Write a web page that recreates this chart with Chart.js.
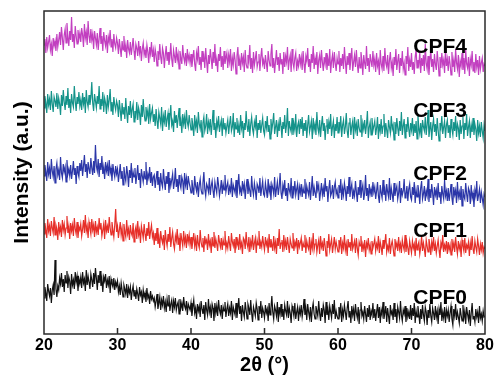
<!DOCTYPE html>
<html>
<head>
<meta charset="utf-8">
<script src="https://cdn.jsdelivr.net/npm/chart.js@4.4.1/dist/chart.umd.min.js"></script>
<style>
    html, body { margin: 0; padding: 0; background: #fff; }
    .chart-container { position: relative; width: 497px; height: 387px; }
</style>
</head>
<body>
<div class="chart-container"><canvas id="xrdChart"></canvas></div>
<script>
// 2theta grid, 0.125 deg steps from 20 to 80 (one line of each array = 5 deg)
const angleStart = 20;
const angleStep = 0.125;
const pointCount = 481;
const twoTheta = Array.from({ length: pointCount }, (_, i) => angleStart + i * angleStep);

const xTicks = [20, 30, 40, 50, 60, 70, 80];
const seriesNames = ["CPF0", "CPF1", "CPF2", "CPF3", "CPF4"];
const seriesColors = ["#111111", "#e62f29", "#2b36a8", "#14938a", "#c23fc0"];

// label anchor (2theta, intensity) for each curve name
const labelAngle = [73.9, 73.9, 73.9, 73.9, 73.9];
const labelLevel = [36, 103, 160, 223, 287];

// intensities (stacked, arbitrary units)
const cpf0 = [
    36, 47, 41, 33, 50, 43, 38, 46, 31, 44, 49, 39, 74, 45, 37, 48, 44, 56, 50, 61, 47, 55, 42, 59, 51, 63, 46, 57, 53, 40, 60, 49, 54, 45, 62, 52, 58, 43, 55, 50,
    57, 46, 62, 51, 55, 43, 64, 49, 58, 52, 45, 60, 54, 47, 61, 50, 66, 56, 44, 59, 51, 63, 48, 55, 42, 57, 53, 60, 46, 54, 49, 58, 41, 55, 50, 47, 56, 44, 52, 48,
    53, 42, 48, 39, 51, 44, 37, 49, 45, 40, 50, 36, 46, 41, 47, 34, 43, 48, 38, 44, 35, 45, 40, 33, 47, 39, 42, 31, 44, 37, 41, 32, 46, 36, 39, 30, 43, 35, 38, 33,
    36, 27, 33, 40, 25, 31, 37, 24, 34, 29, 38, 26, 32, 22, 35, 28, 39, 23, 30, 34, 21, 33, 27, 36, 24, 29, 32, 20, 35, 26, 31, 23, 37, 28, 25, 33, 19, 30, 27, 24,
    31, 18, 27, 34, 21, 26, 15, 30, 23, 28, 17, 33, 25, 20, 29, 14, 32, 24, 19, 35, 22, 27, 16, 30, 26, 13, 31, 21, 28, 18, 34, 24, 20, 29, 15, 27, 23, 32, 17, 25,
    30, 18, 26, 21, 33, 14, 27, 23, 19, 31, 16, 25, 36, 20, 28, 13, 29, 22, 17, 32, 24, 15, 30, 26, 19, 34, 21, 12, 27, 23, 18, 31, 25, 14, 28, 20, 33, 16, 26, 22,
    16, 29, 21, 25, 13, 31, 19, 26, 38, 22, 15, 28, 24, 18, 32, 12, 27, 20, 30, 17, 25, 14, 29, 23, 19, 33, 16, 26, 21, 11, 28, 24, 18, 31, 15, 22, 27, 13, 25, 20,
    29, 17, 24, 35, 19, 26, 14, 30, 22, 16, 27, 12, 25, 31, 20, 15, 28, 23, 18, 33, 21, 13, 26, 17, 29, 24, 11, 32, 19, 25, 14, 28, 22, 16, 30, 20, 34, 15, 23, 18,
    15, 27, 20, 31, 12, 24, 18, 29, 22, 14, 26, 33, 17, 23, 11, 28, 19, 25, 13, 30, 21, 16, 27, 10, 24, 32, 18, 22, 15, 28, 20, 12, 26, 17, 29, 14, 23, 19, 31, 16,
    25, 13, 22, 30, 16, 27, 11, 24, 19, 32, 15, 21, 28, 12, 26, 18, 10, 29, 20, 23, 14, 31, 17, 25, 11, 27, 22, 16, 33, 19, 13, 24, 20, 28, 12, 26, 17, 22, 15, 29,
    14, 26, 18, 31, 11, 23, 17, 28, 20, 10, 25, 15, 29, 19, 13, 27, 22, 9, 24, 16, 30, 18, 12, 26, 21, 14, 28, 17, 23, 10, 25, 19, 32, 13, 22, 16, 27, 11, 24, 18,
    24, 12, 21, 28, 15, 9, 25, 18, 30, 14, 22, 17, 11, 26, 19, 13, 29, 16, 23, 10, 27, 20, 14, 24, 8, 21, 31, 15, 18, 12, 25, 17, 22, 11, 28, 16, 20, 13, 23, 17,
    18
];
const cpf1 = [
    100, 111, 104, 96, 115, 103, 108, 98, 113, 106, 101, 117, 99, 109, 105, 94, 112, 102, 107, 97, 114, 104, 110, 99, 106, 118, 101, 108, 95, 111, 103, 109, 98, 116, 105, 100, 112, 96, 107, 104,
    110, 98, 105, 114, 101, 119, 103, 108, 96, 112, 106, 100, 115, 104, 109, 97, 113, 102, 107, 99, 116, 105, 111, 98, 104, 110, 95, 114, 103, 108, 101, 117, 106, 99, 112, 104, 97, 109, 125, 102,
    108, 96, 104, 112, 99, 106, 93, 110, 102, 97, 114, 100, 105, 94, 109, 101, 98, 111, 92, 103, 107, 95, 113, 99, 104, 91, 108, 102, 96, 110, 100, 93, 106, 98, 112, 95, 103, 109, 97, 101,
    89, 101, 93, 106, 90, 97, 86, 103, 95, 91, 99, 84, 104, 94, 88, 100, 92, 107, 87, 96, 102, 90, 85, 98, 93, 105, 89, 96, 83, 101, 94, 88, 103, 91, 97, 86, 100, 92, 99, 89,
    97, 85, 93, 101, 88, 95, 83, 99, 90, 86, 104, 92, 87, 96, 82, 98, 91, 94, 84, 100, 89, 93, 81, 97, 88, 102, 86, 95, 90, 83, 99, 92, 87, 96, 84, 94, 89, 103, 85, 91,
    86, 98, 90, 83, 101, 92, 88, 95, 81, 97, 89, 93, 84, 100, 87, 91, 80, 96, 94, 85, 102, 90, 86, 97, 82, 93, 88, 99, 84, 91, 96, 81, 94, 89, 103, 85, 92, 87, 98, 90,
    84, 97, 89, 93, 81, 100, 87, 95, 90, 83, 98, 86, 92, 80, 96, 88, 105, 85, 91, 94, 82, 99, 87, 93, 84, 97, 89, 81, 95, 90, 86, 101, 83, 92, 88, 96, 80, 94, 87, 91,
    96, 83, 91, 87, 99, 81, 93, 88, 85, 97, 79, 92, 86, 101, 84, 90, 95, 82, 89, 94, 80, 98, 87, 91, 83, 96, 88, 78, 93, 86, 100, 84, 90, 95, 81, 89, 97, 85, 92, 87,
    82, 94, 88, 97, 80, 91, 86, 99, 84, 90, 78, 95, 87, 92, 83, 100, 85, 89, 93, 81, 96, 86, 79, 92, 88, 98, 82, 90, 85, 94, 77, 91, 87, 96, 84, 89, 80, 93, 86, 90,
    95, 83, 90, 86, 98, 81, 92, 87, 79, 94, 85, 91, 100, 82, 88, 84, 96, 80, 89, 93, 86, 78, 95, 87, 91, 83, 97, 85, 90, 81, 94, 88, 84, 99, 82, 92, 86, 79, 93, 87,
    81, 93, 86, 90, 78, 96, 84, 89, 92, 80, 87, 98, 83, 91, 85, 77, 94, 88, 82, 95, 89, 79, 92, 86, 97, 83, 90, 81, 88, 94, 84, 76, 91, 87, 99, 82, 89, 85, 93, 80,
    92, 84, 89, 79, 95, 86, 91, 82, 97, 87, 80, 93, 85, 90, 77, 94, 88, 83, 96, 81, 89, 86, 92, 78, 91, 84, 98, 85, 80, 93, 87, 82, 95, 88, 79, 90, 84, 92, 81, 87,
    85
];
const cpf2 = [
    158, 169, 162, 153, 172, 160, 166, 155, 175, 163, 157, 168, 151, 165, 171, 159, 164, 154, 177, 161, 156, 170, 162, 167, 152, 174, 160, 165, 158, 169, 155, 163, 173, 159, 166, 150, 168, 161, 157, 171,
    163, 174, 158, 168, 179, 162, 170, 156, 172, 165, 160, 176, 166, 159, 173, 161, 189, 168, 163, 175, 157, 171, 164, 178, 160, 167, 155, 172, 163, 169, 158, 174, 161, 166, 153, 170, 162, 157, 168, 160,
    165, 152, 161, 170, 155, 163, 149, 167, 158, 153, 168, 160, 147, 164, 156, 171, 151, 162, 157, 166, 150, 159, 169, 154, 161, 146, 165, 158, 152, 163, 155, 172, 149, 160, 156, 167, 151, 162, 148, 157,
    159, 146, 155, 163, 149, 157, 143, 161, 151, 147, 165, 153, 144, 158, 150, 162, 141, 156, 148, 154, 160, 145, 152, 166, 147, 155, 142, 159, 150, 146, 157, 153, 140, 161, 149, 156, 144, 158, 151, 147,
    141, 154, 146, 139, 158, 148, 143, 152, 137, 149, 155, 144, 140, 151, 162, 145, 138, 150, 147, 142, 156, 139, 148, 153, 143, 136, 152, 146, 141, 157, 149, 138, 145, 154, 140, 150, 144, 159, 142, 148,
    152, 139, 147, 143, 156, 137, 149, 145, 141, 154, 136, 148, 160, 142, 146, 138, 153, 144, 150, 135, 147, 155, 140, 149, 143, 137, 158, 145, 139, 151, 144, 134, 150, 147, 141, 156, 138, 146, 153, 140,
    138, 151, 144, 136, 155, 142, 148, 134, 150, 146, 140, 157, 137, 145, 152, 139, 147, 161, 141, 135, 149, 143, 154, 138, 146, 133, 151, 144, 140, 156, 136, 148, 142, 153, 139, 145, 150, 134, 147, 141,
    150, 137, 146, 141, 155, 135, 148, 143, 139, 152, 134, 145, 158, 138, 147, 141, 136, 153, 144, 149, 133, 142, 151, 139, 146, 137, 156, 143, 148, 132, 145, 154, 138, 141, 149, 135, 147, 152, 140, 144,
    136, 149, 141, 155, 134, 146, 139, 151, 144, 133, 148, 140, 157, 137, 145, 150, 135, 143, 138, 153, 142, 132, 147, 139, 154, 136, 144, 149, 134, 141, 159, 138, 146, 133, 150, 140, 145, 137, 152, 142,
    147, 135, 143, 152, 138, 131, 149, 141, 136, 154, 139, 145, 133, 150, 142, 137, 156, 134, 146, 140, 132, 151, 138, 144, 148, 135, 141, 153, 131, 146, 139, 143, 155, 136, 140, 148, 133, 145, 150, 137,
    134, 147, 139, 152, 131, 144, 137, 149, 142, 130, 146, 153, 135, 140, 148, 133, 143, 138, 155, 132, 145, 136, 150, 141, 129, 147, 139, 144, 134, 151, 137, 142, 130, 148, 140, 135, 154, 138, 143, 133,
    146, 133, 141, 150, 136, 129, 147, 139, 144, 131, 152, 137, 142, 134, 148, 128, 145, 138, 135, 151, 140, 132, 146, 143, 130, 149, 136, 141, 127, 144, 138, 153, 133, 139, 145, 131, 142, 136, 129, 140,
    137
];
const cpf3 = [
    226, 238, 231, 221, 240, 229, 235, 224, 243, 230, 222, 237, 233, 227, 241, 225, 236, 230, 219, 239, 228, 244, 232, 224, 238, 229, 246, 226, 235, 221, 240, 231, 227, 248, 233, 223, 237, 230, 242, 228,
    234, 224, 241, 230, 237, 221, 244, 232, 227, 239, 229, 236, 252, 231, 223, 240, 233, 226, 238, 230, 248, 225, 235, 228, 242, 222, 236, 231, 220, 239, 227, 234, 245, 223, 232, 219, 237, 229, 224, 233,
    229, 217, 234, 224, 213, 231, 220, 227, 215, 236, 222, 211, 228, 219, 233, 216, 225, 230, 212, 223, 218, 232, 214, 226, 221, 209, 229, 217, 235, 220, 213, 227, 218, 224, 210, 230, 215, 221, 226, 212,
    220, 208, 225, 213, 205, 222, 216, 210, 227, 203, 218, 212, 224, 207, 215, 221, 204, 217, 229, 209, 213, 202, 223, 211, 219, 206, 216, 226, 208, 214, 201, 220, 210, 217, 205, 224, 212, 207, 219, 211,
    204, 216, 209, 198, 219, 207, 213, 201, 222, 210, 205, 214, 197, 211, 217, 203, 208, 220, 200, 212, 206, 215, 199, 210, 224, 204, 211, 196, 213, 207, 218, 202, 209, 214, 198, 216, 205, 211, 201, 208,
    214, 200, 210, 218, 203, 207, 221, 197, 212, 205, 216, 201, 209, 199, 219, 206, 213, 196, 211, 204, 223, 208, 202, 215, 198, 210, 217, 205, 200, 212, 207, 219, 196, 211, 204, 214, 201, 209, 216, 203,
    199, 213, 206, 218, 202, 209, 195, 215, 204, 211, 221, 200, 207, 214, 197, 210, 203, 217, 208, 196, 212, 205, 219, 201, 209, 226, 198, 213, 206, 202, 216, 199, 210, 204, 220, 197, 208, 212, 200, 215,
    205, 217, 198, 211, 203, 214, 196, 209, 219, 202, 207, 213, 195, 216, 204, 210, 199, 222, 206, 201, 214, 197, 209, 218, 203, 211, 194, 208, 215, 200, 212, 205, 220, 198, 207, 213, 196, 210, 203, 217,
    201, 212, 206, 218, 197, 209, 214, 200, 207, 221, 203, 196, 211, 216, 199, 208, 213, 195, 217, 204, 210, 198, 215, 206, 202, 219, 197, 211, 205, 214, 200, 209, 223, 196, 207, 212, 199, 216, 203, 208,
    213, 199, 206, 217, 195, 210, 203, 215, 200, 208, 220, 197, 211, 204, 196, 214, 207, 201, 218, 205, 209, 194, 212, 200, 216, 206, 198, 213, 203, 222, 199, 208, 215, 196, 210, 202, 217, 205, 197, 211,
    204, 216, 198, 210, 201, 213, 195, 219, 206, 200, 211, 196, 214, 207, 203, 217, 199, 209, 224, 197, 205, 212, 194, 208, 215, 202, 210, 198, 216, 204, 193, 211, 206, 218, 200, 207, 213, 196, 209, 214,
    201, 209, 196, 215, 205, 199, 212, 203, 218, 197, 210, 206, 194, 214, 200, 208, 217, 195, 211, 204, 220, 198, 207, 213, 196, 209, 202, 216, 199, 210, 205, 193, 214, 201, 208, 197, 212, 203, 196, 209,
    203
];
const cpf4 = [
    289, 295, 281, 297, 286, 292, 299, 284, 290, 278, 296, 288, 293, 283, 300, 287, 294, 302, 289, 307, 296, 284, 299, 305, 291, 311, 297, 288, 303, 294, 317, 292, 300, 286, 308, 298, 290, 304, 295, 301,
    292, 306, 299, 287, 310, 296, 302, 289, 313, 298, 291, 305, 294, 300, 285, 303, 296, 289, 301, 284, 295, 306, 290, 298, 283, 302, 293, 288, 299, 281, 297, 292, 304, 287, 295, 282, 300, 290, 286, 296,
    291, 280, 295, 286, 277, 293, 284, 298, 282, 289, 276, 294, 285, 281, 292, 279, 287, 296, 283, 274, 290, 286, 278, 293, 281, 288, 273, 285, 291, 279, 284, 276, 289, 282, 271, 287, 280, 292, 277, 284,
    272, 285, 279, 268, 283, 274, 290, 277, 270, 286, 281, 266, 279, 288, 273, 282, 269, 276, 291, 275, 267, 284, 278, 271, 287, 274, 280, 265, 283, 276, 270, 289, 277, 272, 281, 268, 285, 274, 279, 271,
    280, 267, 276, 284, 270, 263, 281, 275, 288, 269, 277, 264, 283, 272, 278, 266, 286, 273, 261, 279, 270, 285, 276, 265, 282, 271, 290, 268, 275, 262, 280, 273, 287, 267, 278, 264, 283, 270, 276, 281,
    266, 279, 272, 285, 263, 276, 269, 282, 274, 260, 278, 287, 268, 275, 264, 281, 271, 277, 262, 284, 270, 266, 279, 273, 289, 265, 276, 261, 282, 269, 275, 283, 267, 272, 280, 263, 277, 286, 270, 274,
    265, 279, 271, 262, 283, 274, 268, 280, 290, 266, 276, 261, 273, 284, 269, 277, 263, 281, 270, 275, 260, 282, 267, 278, 272, 287, 264, 274, 279, 262, 285, 271, 266, 276, 281, 263, 273, 268, 280, 270,
    277, 264, 283, 270, 261, 278, 273, 286, 267, 275, 262, 280, 271, 288, 265, 276, 269, 282, 260, 274, 279, 266, 284, 272, 263, 277, 270, 281, 264, 275, 268, 285, 261, 273, 279, 266, 282, 271, 263, 276,
    270, 283, 262, 276, 268, 280, 265, 287, 273, 260, 278, 269, 281, 264, 275, 286, 263, 272, 279, 267, 284, 270, 261, 277, 266, 282, 274, 259, 279, 271, 265, 288, 268, 276, 262, 280, 273, 267, 283, 269,
    275, 262, 281, 268, 273, 259, 284, 270, 265, 278, 263, 286, 271, 267, 279, 260, 274, 282, 266, 272, 258, 277, 269, 285, 264, 273, 280, 261, 276, 268, 283, 265, 271, 259, 278, 270, 287, 263, 274, 267,
    281, 264, 272, 260, 277, 285, 266, 274, 269, 282, 261, 276, 268, 279, 263, 290, 271, 265, 278, 259, 273, 284, 267, 275, 262, 280, 270, 264, 283, 272, 258, 277, 266, 281, 269, 274, 261, 286, 268, 275,
    263, 278, 270, 259, 282, 267, 274, 262, 285, 271, 265, 279, 257, 273, 268, 281, 264, 276, 260, 284, 270, 266, 277, 258, 275, 269, 283, 263, 272, 261, 280, 267, 274, 259, 278, 265, 271, 276, 262, 270,
    268
];
const seriesValues = [cpf0, cpf1, cpf2, cpf3, cpf4];

// frame, inward ticks and curve names
const framePlugin = {
    id: "frameAndNames",
    afterDatasetsDraw(chart) {
        const { ctx, chartArea } = chart;
        const xScale = chart.scales.x;
        const yScale = chart.scales.y;
        ctx.save();
        ctx.strokeStyle = "#2a2a2a";
        ctx.lineWidth = 1.5;
        ctx.strokeRect(chartArea.left, chartArea.top, chartArea.right - chartArea.left, chartArea.bottom - chartArea.top);

        ctx.beginPath();
        xTicks.slice(1, -1).forEach((t) => {
            const px = xScale.getPixelForValue(t);
            ctx.moveTo(px, chartArea.bottom);
            ctx.lineTo(px, chartArea.bottom - 6);
        });
        ctx.stroke();

        ctx.fillStyle = "#000";
        ctx.font = "bold 21px Arial, 'Liberation Sans', sans-serif";
        ctx.textAlign = "center";
        ctx.textBaseline = "middle";
        seriesNames.forEach((name, i) => {
            ctx.fillText(name, xScale.getPixelForValue(labelAngle[i]), yScale.getPixelForValue(labelLevel[i]));
        });
        ctx.restore();
    },
};

const ctx = document.getElementById("xrdChart").getContext("2d");

new Chart(ctx, {
    type: "line",
    data: {
        datasets: seriesValues.map((vals, i) => ({
            label: seriesNames[i],
            data: vals.map((v, j) => ({ x: twoTheta[j], y: v })),
            borderColor: seriesColors[i],
            borderWidth: 1.2,
            pointRadius: 0,
            tension: 0,
            fill: false,
        })),
    },
    options: {
        responsive: true,
        maintainAspectRatio: false,
        animation: false,
        layout: { padding: { top: 11, right: 12, bottom: 0, left: 0 } },
        plugins: {
            legend: { display: false },
            tooltip: { enabled: false },
        },
        scales: {
            x: {
                type: "linear",
                min: 20,
                max: 80,
                afterBuildTicks: (scale) => {
                    scale.ticks = xTicks.map((v) => ({ value: v }));
                },
                afterFit: (scale) => {
                    scale.height = 53;
                },
                grid: { display: false, drawTicks: false },
                border: { display: false },
                ticks: {
                    padding: 2,
                    color: "#000",
                    maxRotation: 0,
                    font: { family: "Arial, 'Liberation Sans', sans-serif", size: 16, weight: "bold" },
                },
                title: {
                    display: true,
                    text: "2θ (°)",
                    color: "#000",
                    padding: { top: 0, bottom: 10 },
                    font: { family: "Arial, 'Liberation Sans', sans-serif", size: 20, weight: "bold" },
                },
            },
            y: {
                min: 0,
                max: 323,
                afterFit: (scale) => {
                    scale.width = 44;
                },
                grid: { display: false, drawTicks: false },
                border: { display: false },
                ticks: { display: false },
                title: {
                    display: true,
                    text: "Intensity (a.u.)",
                    color: "#000",
                    padding: { top: 10, bottom: 0 },
                    font: { family: "Arial, 'Liberation Sans', sans-serif", size: 21, weight: "bold" },
                },
            },
        },
    },
    plugins: [framePlugin],
});
</script>
</body>
</html>
